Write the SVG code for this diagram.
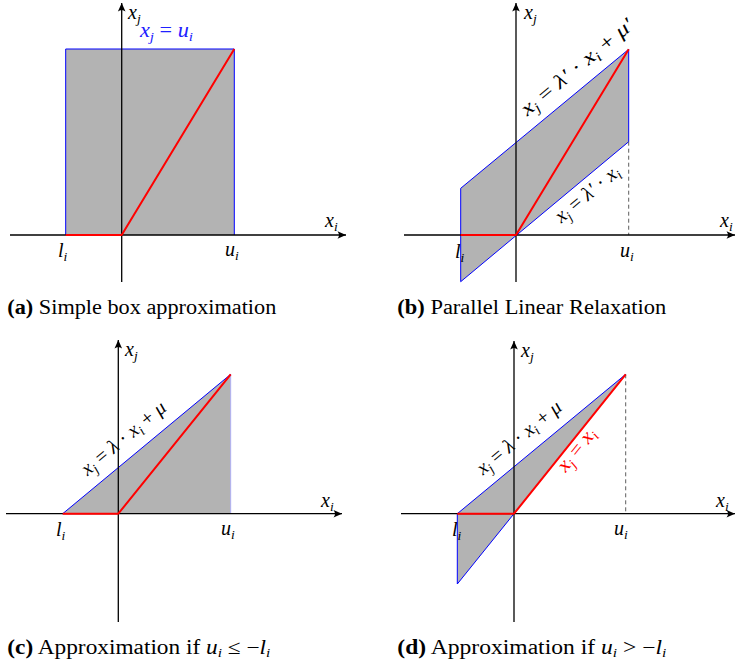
<svg xmlns="http://www.w3.org/2000/svg" width="736" height="663" viewBox="0 0 736 663">
<defs>
<marker id="arr" markerUnits="userSpaceOnUse" markerWidth="12" markerHeight="10" refX="10" refY="5" orient="auto" overflow="visible">
<path d="M10,5 L1.5,1.2 Q4.5,5 1.5,8.8 Z" fill="#000"/>
</marker>
<style>
.ax{stroke:#000;stroke-width:1.3;fill:none;marker-end:url(#arr)}
.fl{fill:#b3b3b3;stroke:none}
.bl{stroke:#0000ff;stroke-width:1;fill:none}
.fb{stroke:#a8a8ff;stroke-width:0.8;fill:none}
.rd{stroke:#ff0000;stroke-width:2;fill:none;stroke-linejoin:round}
.ds{stroke:#333;stroke-width:0.8;stroke-dasharray:4,3;fill:none}
.m{font-family:"Liberation Serif",serif;font-style:italic;font-size:20px;fill:#000}
.s{font-size:13.5px}
.n{font-style:normal}
.cap{font-family:"Liberation Serif",serif;font-size:20px;fill:#000}
</style>
</defs>

<g id="panel-a">
<rect class="fl" x="65.7" y="49" width="168.6" height="186"/>
<polyline class="bl" points="65.7,235 65.7,49 234.3,49 234.3,235"/>
<line class="ax" x1="10" y1="235" x2="346" y2="235"/>
<line class="ax" x1="121.7" y1="282" x2="121.7" y2="3"/>
<polyline class="rd" points="65.7,235 121.7,235 234.3,49"/>
<text class="m" x="128" y="19">x<tspan class="s" dy="4">j</tspan></text>
<text class="m" x="140" y="37" style="fill:#2020ff" textLength="53" lengthAdjust="spacingAndGlyphs">x<tspan class="s" dy="4">j</tspan><tspan class="n" dy="-4"> = </tspan>u<tspan class="s" dy="4">i</tspan></text>
<text class="m" x="325" y="227">x<tspan class="s" dy="4">i</tspan></text>
<text class="m" x="58" y="257">l<tspan class="s" dy="4">i</tspan></text>
<text class="m" x="225" y="256">u<tspan class="s" dy="4">i</tspan></text>
<text class="cap" x="7.3" y="314" textLength="269" lengthAdjust="spacingAndGlyphs"><tspan font-weight="bold">(a)</tspan> Simple box approximation</text>
</g>

<g id="panel-b">
<polygon class="fl" points="460.7,188.3 628.7,49.3 628.7,141.7 460.7,281.7"/>
<polygon class="bl" points="460.7,188.3 628.7,49.3 628.7,141.7 460.7,281.7"/>
<line class="ds" x1="628.7" y1="141.7" x2="628.7" y2="235"/>
<line class="ax" x1="404" y1="235" x2="735" y2="235"/>
<line class="ax" x1="516" y1="282" x2="516" y2="3"/>
<polyline class="rd" points="460.7,235 516,235 628.7,49.3"/>
<text class="m" x="524" y="19">x<tspan class="s" dy="4">j</tspan></text>
<text class="m" x="720" y="227">x<tspan class="s" dy="4">i</tspan></text>
<text class="m" x="455" y="258">l<tspan class="s" dy="4">i</tspan></text>
<text class="m" x="620" y="257">u<tspan class="s" dy="4">i</tspan></text>
<text class="m" transform="translate(535.5,126.5) rotate(-39.6)" x="0" y="-13" textLength="140" lengthAdjust="spacingAndGlyphs">x<tspan class="s" dy="4">j</tspan><tspan class="n" dy="-4"> = </tspan>λ′<tspan class="n"> · </tspan>x<tspan class="s" dy="4">i</tspan><tspan class="n" dy="-4"> + </tspan>μ′</text>
<text class="m" transform="translate(548.4,208.2) rotate(-39.6)" x="0" y="20" textLength="78" lengthAdjust="spacingAndGlyphs">x<tspan class="s" dy="4">j</tspan><tspan class="n" dy="-4"> = </tspan>λ′<tspan class="n"> · </tspan>x<tspan class="s" dy="4">i</tspan></text>
<text class="cap" x="397.3" y="314" textLength="269" lengthAdjust="spacingAndGlyphs"><tspan font-weight="bold">(b)</tspan> Parallel Linear Relaxation</text>
</g>

<g id="panel-c">
<polygon class="fl" points="62.7,513.7 230.7,374.3 230.7,513.7"/>
<line class="fb" x1="230.7" y1="374.3" x2="230.7" y2="513.7"/>
<line class="bl" x1="62.7" y1="513.7" x2="230.7" y2="374.3"/>
<line class="ax" x1="6" y1="513.7" x2="342" y2="513.7"/>
<line class="ax" x1="118.3" y1="622" x2="118.3" y2="340"/>
<polyline class="rd" points="62.7,513.7 118.3,513.7 230.7,374.3"/>
<text class="m" x="125" y="356">x<tspan class="s" dy="4">j</tspan></text>
<text class="m" x="321" y="507">x<tspan class="s" dy="4">i</tspan></text>
<text class="m" x="56" y="536">l<tspan class="s" dy="4">i</tspan></text>
<text class="m" x="221" y="535">u<tspan class="s" dy="4">i</tspan></text>
<text class="m" transform="translate(95.8,486.2) rotate(-39.7)" x="0" y="-13" textLength="104" lengthAdjust="spacingAndGlyphs">x<tspan class="s" dy="4">j</tspan><tspan class="n" dy="-4"> = </tspan>λ<tspan class="n"> · </tspan>x<tspan class="s" dy="4">i</tspan><tspan class="n" dy="-4"> + </tspan>μ</text>
<text class="cap" x="7.3" y="654" textLength="263" lengthAdjust="spacingAndGlyphs"><tspan font-weight="bold">(c)</tspan> Approximation if <tspan font-style="italic">u</tspan><tspan font-size="13" font-style="italic" dy="3">i</tspan><tspan dy="-3"> ≤ −</tspan><tspan font-style="italic">l</tspan><tspan font-size="13" font-style="italic" dy="3">i</tspan></text>
</g>

<g id="panel-d">
<polygon class="fl" points="457.3,513.7 625.7,374.3 514,513.7 457.3,584"/>
<line class="bl" x1="457.3" y1="513.7" x2="625.7" y2="374.3"/>
<polyline class="bl" points="514,513.7 457.3,584 457.3,513.7"/>
<line class="ds" x1="625.7" y1="374.3" x2="625.7" y2="513.7"/>
<line class="ax" x1="401" y1="513.7" x2="735" y2="513.7"/>
<line class="ax" x1="514" y1="622" x2="514" y2="341"/>
<polyline class="rd" points="457.3,513.7 514,513.7 625.7,374.3"/>
<text class="m" x="521" y="357">x<tspan class="s" dy="4">j</tspan></text>
<text class="m" x="716" y="507">x<tspan class="s" dy="4">i</tspan></text>
<text class="m" x="452" y="536">l<tspan class="s" dy="4">i</tspan></text>
<text class="m" x="614" y="535">u<tspan class="s" dy="4">i</tspan></text>
<text class="m" transform="translate(491.2,485.6) rotate(-39.6)" x="0" y="-13" textLength="104" lengthAdjust="spacingAndGlyphs">x<tspan class="s" dy="4">j</tspan><tspan class="n" dy="-4"> = </tspan>λ<tspan class="n"> · </tspan>x<tspan class="s" dy="4">i</tspan><tspan class="n" dy="-4"> + </tspan>μ</text>
<text class="m" transform="translate(554,463.7) rotate(-51.3)" x="0" y="15" textLength="50" lengthAdjust="spacingAndGlyphs" style="fill:#ff0000">x<tspan class="s" dy="4">j</tspan><tspan class="n" dy="-4"> = </tspan>x<tspan class="s" dy="4">i</tspan></text>
<text class="cap" x="397.3" y="654" textLength="269" lengthAdjust="spacingAndGlyphs"><tspan font-weight="bold">(d)</tspan> Approximation if <tspan font-style="italic">u</tspan><tspan font-size="13" font-style="italic" dy="3">i</tspan><tspan dy="-3"> &gt; −</tspan><tspan font-style="italic">l</tspan><tspan font-size="13" font-style="italic" dy="3">i</tspan></text>
</g>
</svg>
